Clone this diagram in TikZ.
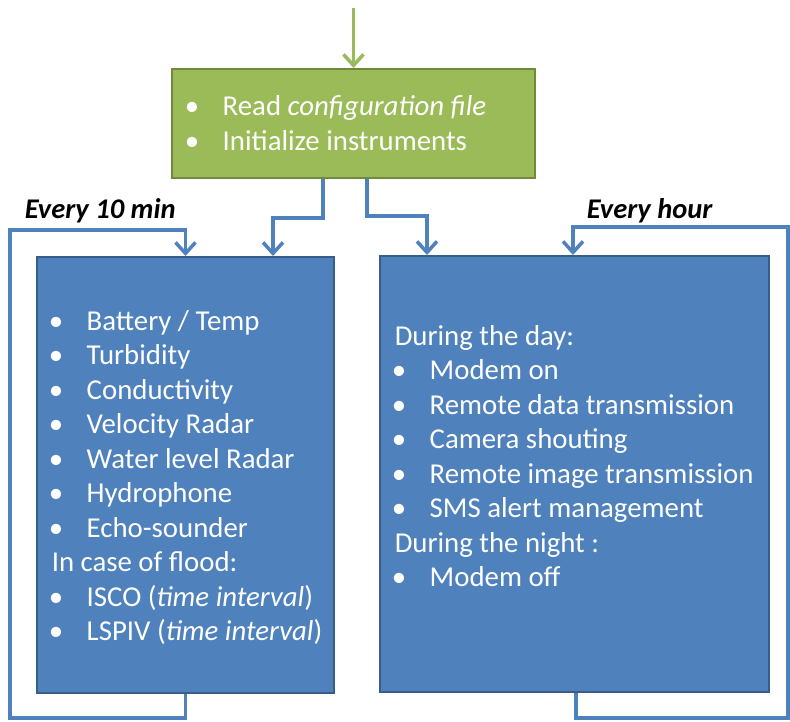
\documentclass[tikz,border=0pt]{standalone}
\usepackage{fontspec}
\setmainfont{Carlito}
\usepackage{tikz}
\usetikzlibrary{arrows.meta}

\definecolor{boxblue}{HTML}{4F81BD}
\definecolor{boxblueline}{HTML}{385D8A}
\definecolor{boxgreen}{HTML}{9BBB59}
\definecolor{boxgreenline}{HTML}{71893F}

\newcommand{\bul}{\makebox[35pt][l]{\hspace{-3pt}\textbullet}}

\begin{document}
\begin{tikzpicture}[x=1pt,y=-1pt,
      >={Straight Barb[length=11pt,width=20pt]},
      line width=3.5pt,
      flow/.style={draw=boxblue},
      startflow/.style={draw=boxgreen},
      bluebox/.style={draw=boxblueline,fill=boxblue,line width=2pt},
      greenbox/.style={draw=boxgreenline,fill=boxgreen,line width=2pt},
      listtext/.style={text=white,inner sep=0pt,anchor=base west,
        font=\fontsize{28.8}{34.5}\selectfont},
      period/.style={inner sep=0pt,anchor=base west,
        font=\fontsize{28.5}{34}\selectfont\bfseries\itshape}]

    \useasboundingbox (0,0) rectangle (790,721);

    \node[greenbox,minimum width=363pt,minimum height=109pt]
      (Init) at (353.5,123.5) {};
    \node[bluebox,minimum width=297pt,minimum height=436pt]
      (TenMin) at (185.5,475) {};
    \node[bluebox,minimum width=389pt,minimum height=436pt]
      (Hourly) at (574.5,474) {};

    \node[listtext,font=\fontsize{28.8}{35}\selectfont]
      (InitList) at (186,115) {\begin{tabular}[t]{@{}l@{}}
        \bul Read \textit{configuration file}\\
        \bul Initialize instruments
      \end{tabular}};
    \node[listtext]
      (TenMinList) at (50,330) {\begin{tabular}[t]{@{}l@{}}
        \bul Battery / Temp\\
        \bul Turbidity\\
        \bul Conductivity\\
        \bul Velocity Radar\\
        \bul Water level Radar\\
        \bul Hydrophone\\
        \bul Echo-sounder\\
        In case of flood:\\
        \bul ISCO (\textit{time interval})\\
        \bul LSPIV (\textit{time interval})
      \end{tabular}};
    \node[listtext]
      (HourlyList) at (393,345) {\begin{tabular}[t]{@{}l@{}}
        During the day:\\
        \bul Modem on\\
        \bul Remote data transmission\\
        \bul Camera shouting\\
        \bul Remote image transmission\\
        \bul SMS alert management\\
        During the night :\\
        \bul Modem off
      \end{tabular}};

    \node[period] (TenMinLabel) at (23,218) {Every 10 min};
    \node[period] (HourlyLabel) at (585,218) {Every hour};

    \coordinate (Start) at (353.5,8);
    \coordinate (TenLow) at (10,718);
    \coordinate (TenHigh) at (10,230);
    \coordinate (HourLow) at (788,718);
    \coordinate (HourHigh) at (788,227);

    \draw[startflow,->] (Start) -- (Init.north);
    \draw[flow,->] ([xshift=-30.5pt]Init.south) -- ++(0,39)
      -| ([xshift=87.5pt]TenMin.north);
    \draw[flow,->] ([xshift=13.5pt]Init.south) -- ++(0,37)
      -| ([xshift=-147.5pt]Hourly.north);
    \draw[flow,->] (TenMin.south) |- (TenLow) -- (TenHigh)
      -| (TenMin.north);
    \draw[flow,->] ([xshift=1.5pt]Hourly.south) |- (HourLow) -- (HourHigh)
      -| ([xshift=-1.5pt]Hourly.north);

  \end{tikzpicture}
\end{document}
